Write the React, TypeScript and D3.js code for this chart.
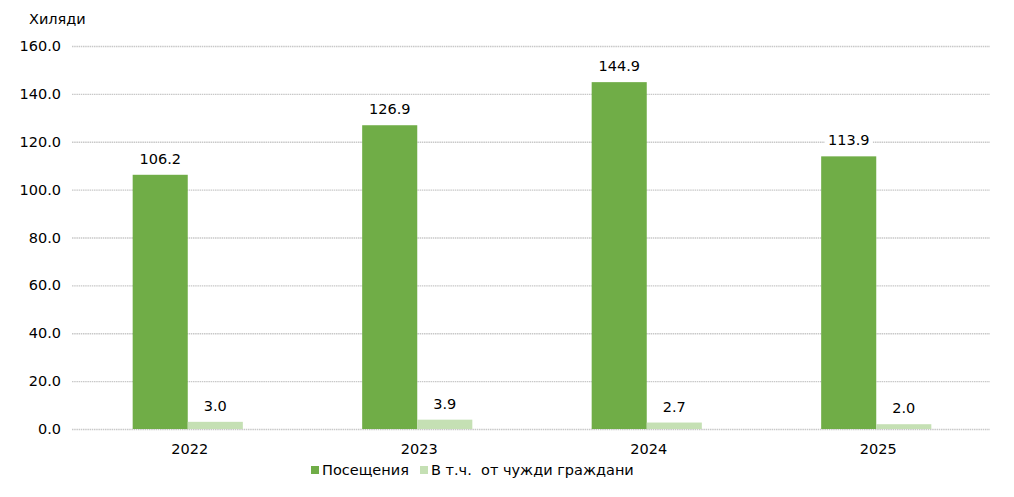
import * as d3 from 'd3';
import React, { useEffect, useRef } from 'react';

const years = ['2022', '2023', '2024', '2025'];
const visits = [106.2, 126.9, 144.9, 113.9];
const foreign = [3.0, 3.9, 2.7, 2.0];
const yTicks = [0, 20, 40, 60, 80, 100, 120, 140, 160];
const seriesNames = ['Посещения', 'В т.ч.  от чужди граждани'];
const colors = ['#70AD47', '#C5E0B4'];

const W = 1014;
const H = 497;
const FONT = '"DejaVu Sans", Verdana, sans-serif';
const FS = '14.5px';

const App = () => {
	const svgRef = useRef(null);

	useEffect(() => {
		const svg = d3.select(svgRef.current);
		svg.selectAll('*').remove();

		const left = 72, right = 990, top = 46, bottom = 429;

		const x = d3.scaleBand().domain(years).range([left + 1, right + 1]).paddingInner(0.52).paddingOuter(0.26);
		const y = d3.scaleLinear().domain([0, 160]).range([bottom, top]);
		const sub = d3.scaleBand().domain(['0', '1']).range([0, x.bandwidth()]);

		// gridlines
		svg.append('g')
			.selectAll('line')
			.data(yTicks)
			.join('line')
			.attr('x1', left)
			.attr('x2', right)
			.attr('y1', (d) => y(d) + 0.5)
			.attr('y2', (d) => y(d) + 0.5)
			.attr('stroke', '#c8c8c8')
			.attr('stroke-width', 1.3)
			.attr('stroke-dasharray', '1.5,0.7');

		// y tick labels
		svg.append('g')
			.selectAll('text')
			.data(yTicks)
			.join('text')
			.attr('x', 61)
			.attr('y', (d) => y(d))
			.attr('dy', '0.35em')
			.attr('text-anchor', 'end')
			.style('font-family', FONT)
			.style('font-size', FS)
			.attr('fill', '#000')
			.text((d) => d.toFixed(1));

		svg.append('text')
			.attr('x', 29)
			.attr('y', 19)
			.attr('dy', '0.35em')
			.style('font-family', FONT)
			.style('font-size', FS)
			.attr('fill', '#000')
			.text('Хиляди');

		const series = [visits, foreign];

		series.forEach((vals, si) => {
			const g = svg.append('g');
			g.selectAll('rect')
				.data(vals)
				.join('rect')
				.attr('x', (_d, i) => x(years[i]) + sub(String(si)))
				.attr('y', (d) => y(d))
				.attr('width', sub.bandwidth())
				.attr('height', (d) => bottom - y(d))
				.attr('fill', colors[si]);

			const labels = g.selectAll('g.lbl')
				.data(vals)
				.join('g')
				.attr('class', 'lbl')
				.attr('transform', (d, i) => `translate(${x(years[i]) + sub(String(si)) + sub.bandwidth() / 2},${y(d) - 16})`);

			labels.append('rect')
				.attr('x', -24)
				.attr('y', -9)
				.attr('width', 48)
				.attr('height', 18)
				.attr('fill', '#fff');

			labels.append('text')
				.attr('text-anchor', 'middle')
				.attr('dy', '0.35em')
				.style('font-family', FONT)
				.style('font-size', FS)
				.attr('fill', '#000')
				.text((d) => d.toFixed(1));
		});

		// x labels
		svg.append('g')
			.selectAll('text')
			.data(years)
			.join('text')
			.attr('x', (d) => x(d) + x.bandwidth() / 2 + 2)
			.attr('y', 449)
			.attr('dy', '0.35em')
			.attr('text-anchor', 'middle')
			.style('font-family', FONT)
			.style('font-size', FS)
			.attr('fill', '#000')
			.text((d) => d);

		// legend
		const legend = svg.append('g');
		const lx = [311, 420];
		seriesNames.forEach((name, i) => {
			legend.append('rect')
				.attr('x', lx[i])
				.attr('y', 466)
				.attr('width', 8)
				.attr('height', 8)
				.attr('fill', colors[i]);
			legend.append('text')
				.attr('x', lx[i] + 11)
				.attr('y', 470)
				.attr('dy', '0.35em')
				.style('font-family', FONT)
				.style('font-size', FS)
				.style('white-space', 'pre')
				.attr('fill', '#000')
				.text(name);
		});
	}, []);

	return (
		<svg
			ref={svgRef}
			width={W}
			height={H}
			style={{ position: 'absolute', left: 0, top: 0, background: '#fff' }}
		/>
	);
};

export default App;
